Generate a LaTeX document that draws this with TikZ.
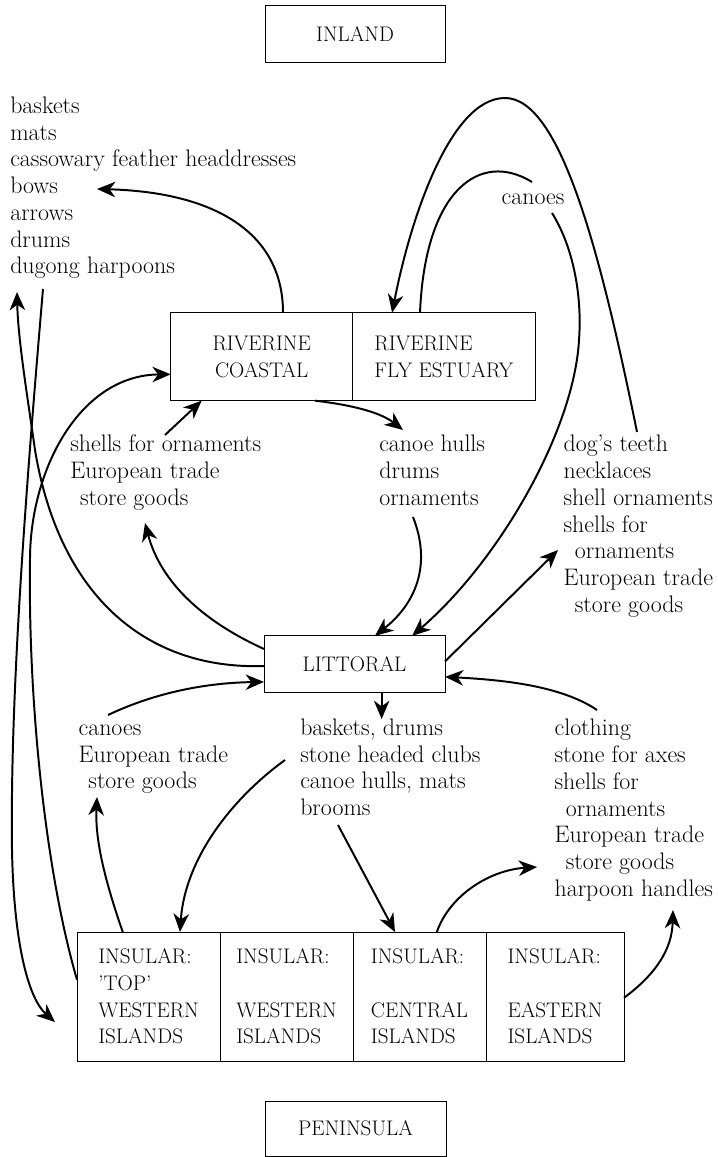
\documentclass[tikz,border=0pt]{standalone}
\usepackage{tikz}
\usetikzlibrary{
	arrows.meta,
	positioning,
	calc
}

\newcommand{\listfont}{\fontsize{17}{19}\selectfont}
\newcommand{\boxfont}{\fontsize{15}{19}\selectfont}

\begin{document}
\begin{tikzpicture}[x=0.25mm,y=-0.25mm,>={Stealth[length=13pt,width=11pt,inset=4pt]},
		region/.style={draw,line width=0.7pt,outer sep=0pt,inner sep=0pt,align=left,font=\boxfont},
		goods/.style={anchor=north west,inner sep=0pt,align=left,font=\listfont},
		flow/.style={->,line width=1.4pt},
		link/.style={line width=1.4pt}]
		
		\useasboundingbox (0,0) rectangle (717,1157);
		
		% regions
		\node[region,minimum width=45mm,minimum height=14.15mm] (inland) at (355,34) {INLAND};
		\node[region,align=center,minimum width=45.5mm,minimum height=22mm] (coastal) at (261.7,356.7) {\raisebox{-2pt}{RIVERINE}\\\raisebox{-2pt}{COASTAL}};
		\node[region,minimum width=45.6mm,minimum height=22mm,right=0pt of coastal] (fly) {\raisebox{-2pt}{RIVERINE}\\\raisebox{-2pt}{FLY ESTUARY}};
		\node[region,minimum width=45.25mm,minimum height=14.2mm] (littoral) at (354.5,664.3) {LITTORAL};
		\node[region,minimum width=35.75mm,minimum height=32.25mm] (topw) at (148.5,996.5) {INSULAR:\\'TOP'\\WESTERN\\ISLANDS};
		\node[region,minimum width=33.25mm,minimum height=32.25mm,right=0pt of topw] (west) {INSULAR:\\\mbox{}\\WESTERN\\ISLANDS};
		\node[region,minimum width=33.25mm,minimum height=32.25mm,right=0pt of west] (central) {INSULAR:\\\mbox{}\\CENTRAL\\ISLANDS};
		\node[region,minimum width=34.5mm,minimum height=32.25mm,right=0pt of central] (east) {INSULAR:\\\mbox{}\\EASTERN\\ISLANDS};
		\node[region,minimum width=45.25mm,minimum height=13.75mm] (peninsula) at (355.5,1128.5) {PENINSULA};
		
		% goods
		\node[goods] (inlandGoods) at (10,94.5) {\strut baskets\\mats\\cassowary feather headdresses\\bows\\arrows\\drums\\dugong harpoons};
		\node[goods] (coastalIn) at (70,433) {\strut shells for ornaments\\European trade\\\hspace*{7pt}store goods};
		\node[goods] (coastalOut) at (379,433) {\strut canoe hulls\\drums\\ornaments};
		\node[goods] (flyIn) at (563.3,433) {\strut dog's teeth\\necklaces\\shell ornaments\\shells for\\\hspace*{8pt}ornaments\\European trade\\\hspace*{8pt}store goods};
		\node[goods] (topIn) at (78.3,716.5) {\strut canoes\\European trade\\\hspace*{7pt}store goods};
		\node[goods] (littoralOut) at (300,716.5) {\strut baskets, drums\\stone headed clubs\\canoe hulls, mats\\brooms};
		\node[goods] (eastIn) at (554.3,717) {\strut clothing\\stone for axes\\shells for\\\hspace*{8pt}ornaments\\European trade\\\hspace*{8pt}store goods\\harpoon handles};
		\node[font=\listfont,inner sep=0pt] (canoes) at (533,199) {canoes};
		
		% free ends
		\coordinate (bowsTip) at (97,189);
		\coordinate (teethTop) at (637,432);
		\coordinate (canoesIn) at (532,182);
		\coordinate (canoesOut) at (552,213);
		\coordinate (hullsTop) at (413,517);
		\coordinate (hullsTip) at (403,430);
		\coordinate (shellsTop) at (165,435);
		\coordinate (shellsTip) at (145,523);
		\coordinate (harpoonTip) at (17,292);
		\coordinate (harpoonFoot) at (43,289);
		\coordinate (sideTip) at (55,1022);
		\coordinate (canoesTip) at (97,797);
		\coordinate (canoesTail) at (108,715);
		\coordinate (basketsTail) at (285,760);
		\coordinate (broomsTail) at (338,825);
		\coordinate (storeTip) at (537,867);
		\coordinate (handlesTip) at (673,910);
		\coordinate (teethTip) at (558,550);
		\coordinate (clothingTail) at (597,710);
		
		% riverine
		\draw[flow] ($(coastal.north west)!0.617!(coastal.north east)$) .. controls +(0,-83) and +(113,3) .. (bowsTip);
		\draw[flow] (teethTop) .. controls +(-37,-182) and +(55,0) .. ++(-132,-334) .. controls +(-55,0) and +(18,-92.7) .. ($(fly.north west)!0.216!(fly.north east)$);
		\draw[link] ($(fly.north west)!0.369!(fly.north east)$) .. controls +(5,-122.7) and +(-52,-32) .. (canoesIn);
		\draw[flow] (canoesOut) .. controls +(23,37) and +(3,-40) .. ++(27,127) .. controls +(-5,90) and +(88,-76) .. ($(littoral.north west)!0.818!(littoral.north east)$);
		\draw[flow] ($(coastal.south west)!0.793!(coastal.south east)$) .. controls +(35,4) and +(-23,-18) .. (hullsTip);
		\draw[flow] (hullsTop) .. controls +(17,43) and +(45,-36) .. ($(littoral.north west)!0.613!(littoral.north east)$);
		\draw[flow] (shellsTop) -- ($(coastal.south west)!0.17!(coastal.south east)$);
		
		% littoral
		\draw[flow] ($(littoral.north west)!0.23!(littoral.south west)$) .. controls +(-64,-29) and +(15,57) .. (shellsTip);
		\draw[flow] ($(littoral.north west)!0.53!(littoral.south west)$) .. controls +(-114,4) and +(25,150) .. ++(-229,-216) .. controls +(-7,-50) and +(1,48) .. (harpoonTip);
		\draw[flow] (canoesTail) .. controls +(42,-20) and +(-64,1) .. ($(littoral.north west)!0.81!(littoral.south west)$);
		\draw[flow] ($(littoral.south west)!0.65!(littoral.south east)$) -- ++(0,26.3);
		\draw[flow] ($(littoral.north east)!0.45!(littoral.south east)$) -- (teethTip);
		\draw[flow] (clothingTail) .. controls +(-37,-25) and +(55,3) .. ($(littoral.north east)!0.72!(littoral.south east)$);
		
		% insular
		\draw[flow] (harpoonFoot) .. controls +(-18,211) and +(-2,-150) .. ++(-31,561) .. controls +(2,100) and +(-25,-22) .. (sideTip);
		\draw[flow] ($(topw.north west)!0.37!(topw.south west)$) .. controls +(-32,-110) and +(-2,140) .. ++(-47,-420) .. controls +(0,-90) and +(-91,1) .. ($(coastal.north west)!0.70!(coastal.south west)$);
		\draw[flow] ($(topw.north west)!0.32!(topw.north east)$) .. controls +(-18,-52) and +(-2,43) .. (canoesTip);
		\draw[flow] (basketsTail) .. controls +(-55,40) and +(5,-72) .. ($(topw.north west)!0.72!(topw.north east)$);
		\draw[flow] (broomsTail) -- ($(central.north west)!0.316!(central.north east)$);
		\draw[flow] ($(central.north west)!0.63!(central.north east)$) .. controls +(13,-37) and +(-47,3) .. (storeTip);
		\draw[flow] ($(east.north east)!0.51!(east.south east)$) .. controls +(31,-23) and +(-1,40) .. (handlesTip);
		
	\end{tikzpicture}
\end{document}
